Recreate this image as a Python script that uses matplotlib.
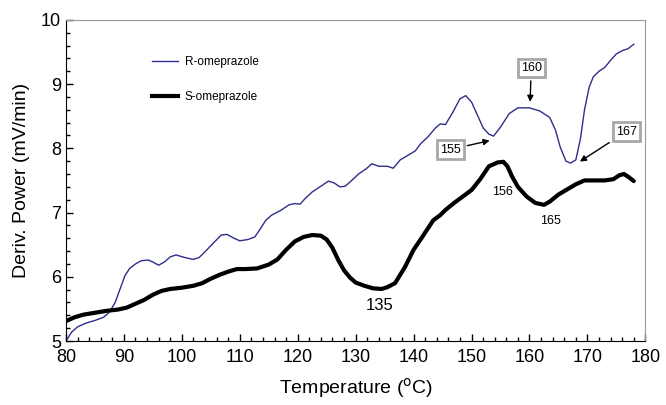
import matplotlib
matplotlib.use("Agg")
import matplotlib.pyplot as plt
from matplotlib.lines import Line2D

plt.rcParams["font.family"] = ["Liberation Sans", "DejaVu Sans"]

# R-omeprazole derivative curve
r_temp = [80.0, 81.0, 82.0, 83.5, 85.0, 86.5, 87.5, 88.5, 89.3, 90.2, 91.0, 92.0,
          93.0, 94.2, 95.0, 96.0, 97.0, 98.0, 99.0, 100.5, 102.0, 103.0, 104.0,
          105.5, 106.8, 107.8, 109.0, 110.0, 111.4, 112.6, 113.5, 114.5, 115.5,
          117.0, 118.5, 119.5, 120.4, 121.3, 122.5, 124.0, 125.3, 126.3, 127.3,
          128.2, 129.2, 130.5, 131.8, 132.8, 134.0, 135.5, 136.5, 137.7, 139.0,
          140.3, 141.2, 142.5, 143.7, 144.6, 145.5, 146.7, 148.0, 149.0, 150.0,
          151.0, 152.0, 153.0, 153.8, 155.0, 156.5, 158.0, 160.0, 161.8, 163.5,
          164.5, 165.3, 166.3, 167.1, 168.0, 168.8, 169.5, 170.3, 171.0, 172.0,
          173.0, 174.0, 175.0, 176.0, 177.0, 178.0]
r_power = [5.00, 5.14, 5.22, 5.28, 5.32, 5.37, 5.45, 5.60, 5.80, 6.02, 6.13, 6.20,
           6.25, 6.26, 6.23, 6.18, 6.23, 6.31, 6.34, 6.30, 6.27, 6.30, 6.39,
           6.53, 6.65, 6.66, 6.60, 6.56, 6.58, 6.62, 6.74, 6.88, 6.96,
           7.03, 7.12, 7.14, 7.13, 7.22, 7.32, 7.41, 7.49, 7.46, 7.40,
           7.41, 7.49, 7.60, 7.68, 7.76, 7.72, 7.72, 7.69, 7.82, 7.89,
           7.96, 8.07, 8.18, 8.31, 8.38, 8.37, 8.55, 8.77, 8.82, 8.72,
           8.52, 8.32, 8.22, 8.19, 8.33, 8.54, 8.63, 8.63, 8.58, 8.48,
           8.28, 8.02, 7.80, 7.77, 7.82, 8.15, 8.60, 8.95, 9.11, 9.20,
           9.26, 9.37, 9.47, 9.52, 9.55, 9.62]

# S-omeprazole derivative curve
s_temp = [80.0, 81.5, 83.0, 85.0, 87.0, 89.0, 90.5, 92.0, 93.5, 95.0, 96.5, 98.0,
          100.0, 102.0, 103.5, 105.0, 106.5, 108.0, 109.5, 111.0, 113.0, 115.0,
          116.5, 118.0, 119.5, 121.0, 122.5, 124.0, 125.0, 126.0, 127.0, 128.0,
          129.0, 130.0, 131.5, 133.0, 134.5, 135.5, 136.8, 138.5, 140.0, 141.5,
          143.4, 144.6, 145.5, 147.0, 148.5, 150.0, 151.5, 153.0, 154.5, 155.5,
          156.2, 157.0, 158.0, 159.5, 161.0, 162.5, 163.5, 165.0, 166.5, 168.0,
          169.5, 171.0, 173.0, 174.5, 175.5, 176.3, 177.0, 178.0]
s_power = [5.31, 5.37, 5.41, 5.44, 5.47, 5.49, 5.52, 5.58, 5.64, 5.72, 5.78, 5.81,
           5.83, 5.86, 5.90, 5.97, 6.03, 6.08, 6.12, 6.12, 6.13, 6.19,
           6.27, 6.42, 6.55, 6.62, 6.65, 6.64, 6.58, 6.45, 6.26, 6.10,
           5.99, 5.91, 5.86, 5.82, 5.81, 5.84, 5.90, 6.15, 6.42, 6.62,
           6.88, 6.96, 7.04, 7.15, 7.25, 7.35, 7.52, 7.72, 7.78, 7.79,
           7.72, 7.56, 7.40, 7.25, 7.15, 7.12, 7.17, 7.28, 7.36, 7.44,
           7.50, 7.50, 7.50, 7.52, 7.58, 7.60, 7.56, 7.49]

fig = plt.figure(figsize=(6.66, 4.05), dpi=100)
ax = fig.add_axes([0.099, 0.158, 0.870, 0.793])

ax.plot(r_temp, r_power, color="#2e2e8c", lw=1.0)
ax.plot(s_temp, s_power, color="black", lw=3.0, solid_capstyle="round")

ax.set_xlim(80, 180)
ax.set_ylim(5, 10)
ax.set_xticks(range(80, 181, 10))
ax.set_xticks(range(80, 181, 2), minor=True)
ax.set_yticks(range(5, 11))
ax.set_yticks([5 + 0.2 * i for i in range(26)], minor=True)
ax.tick_params(which="both", direction="in", labelsize=13, top=False, right=False)
ax.tick_params(which="major", length=5, width=1)
ax.tick_params(which="minor", length=3, width=1)
ax.tick_params(axis="x", pad=6)
for side in ["top", "right"]:
    ax.spines[side].set_color("#9a9a9a")
ax.set_xlabel("Temperature ($^{\\rm o}$C)", fontsize=14, labelpad=7)
ax.set_ylabel("Deriv. Power (mV/min)", fontsize=14, labelpad=8)

# legend
handles = [Line2D([], [], color="#2e2e8c", lw=1.0),
           Line2D([], [], color="black", lw=3.0)]
ax.legend(handles, ["R-omeprazole", "S-omeprazole"], loc="upper left",
          bbox_to_anchor=(0.13, 0.92), frameon=False, fontsize=8.5,
          handlelength=2.2, labelspacing=1.95, handletextpad=0.6)

# boxed peak labels with arrows
box = dict(boxstyle="square,pad=0.25", fc="white", ec="#a8a8a8", lw=2)
arrow = dict(arrowstyle="-|>", color="black", lw=1, mutation_scale=9)
ax.annotate("155", xy=(153.6, 8.13), xytext=(146.3, 7.98), fontsize=9,
            ha="center", va="center", bbox=box, arrowprops=arrow)
ax.annotate("160", xy=(160.1, 8.68), xytext=(160.3, 9.25), fontsize=9,
            ha="center", va="center", bbox=box, arrowprops=arrow)
ax.annotate("167", xy=(168.3, 7.77), xytext=(176.7, 8.26), fontsize=9,
            ha="center", va="center", bbox=box, arrowprops=arrow)

ax.text(155.3, 7.32, "156", fontsize=9, ha="center", va="center")
ax.text(163.6, 6.87, "165", fontsize=9, ha="center", va="center")
ax.text(134.2, 5.56, "135", fontsize=12, ha="center", va="center")

fig.savefig("out.png", dpi=100)
